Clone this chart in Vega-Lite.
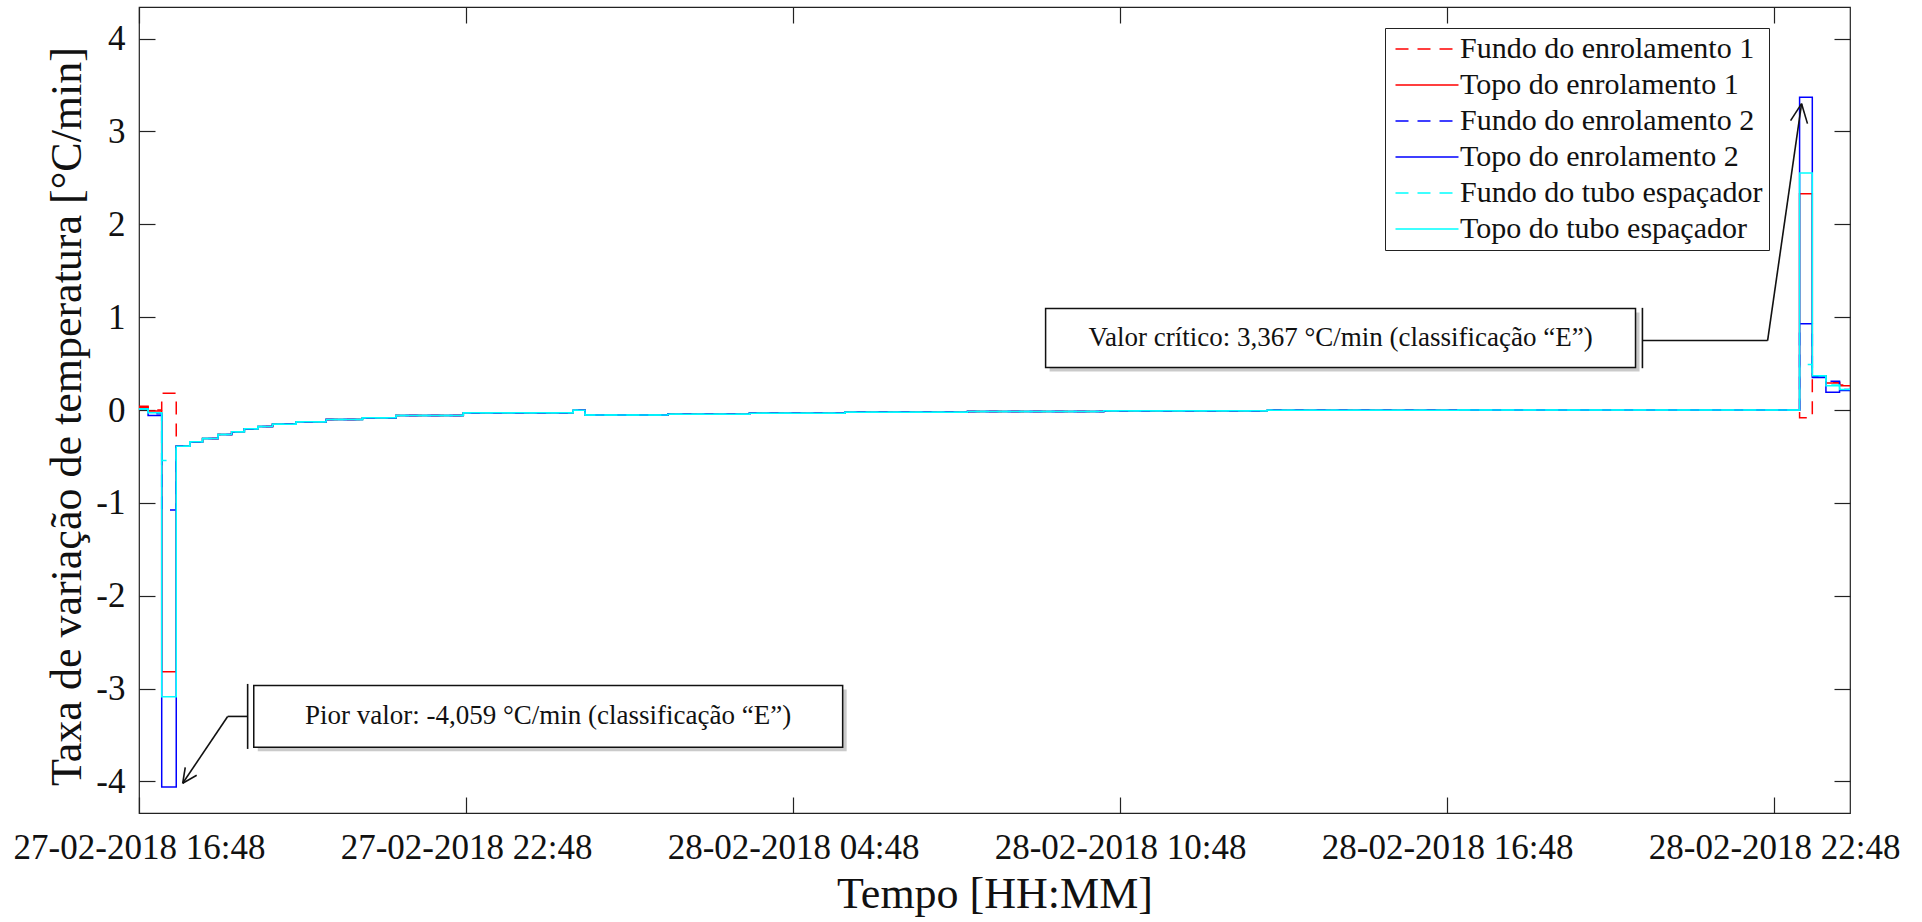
{
  "$schema": "https://vega.github.io/schema/vega-lite/v6.json",
  "width": 1711,
  "height": 806,
  "autosize": {"type": "none"},
  "padding": {"left": 139, "top": 7, "right": 72, "bottom": 109},
  "background": "white",
  "config": {
    "view": {"stroke": "#222", "strokeWidth": 1.2},
    "font": "Liberation Serif",
    "text": {"font": "Liberation Serif"},
    "legend": {"labelFont": "Liberation Serif", "titleFont": "Liberation Serif"},
    "axis": {"grid": false, "domain": false, "tickColor": "#222", "tickSize": -16, "tickWidth": 1.2, "labelFont": "Liberation Serif", "labelFontSize": 35, "labelColor": "#111", "titleFont": "Liberation Serif", "titleFontWeight": "normal", "titleColor": "#111", "labelLimit": 0}
  },
  "datasets": {
    "series": [
      {"t": "2018-02-27T16:48:00", "s": "Fundo do enrolamento 1", "v": 0.04},
      {"t": "2018-02-27T16:58:00", "s": "Fundo do enrolamento 1", "v": 0.0},
      {"t": "2018-02-27T17:13:00", "s": "Fundo do enrolamento 1", "v": 0.18},
      {"t": "2018-02-27T17:29:00", "s": "Fundo do enrolamento 1", "v": -0.39},
      {"t": "2018-02-27T17:44:00", "s": "Fundo do enrolamento 1", "v": -0.342},
      {"t": "2018-02-27T17:58:00", "s": "Fundo do enrolamento 1", "v": -0.306},
      {"t": "2018-02-27T18:15:00", "s": "Fundo do enrolamento 1", "v": -0.263},
      {"t": "2018-02-27T18:30:00", "s": "Fundo do enrolamento 1", "v": -0.234},
      {"t": "2018-02-27T18:44:00", "s": "Fundo do enrolamento 1", "v": -0.202},
      {"t": "2018-02-27T18:59:00", "s": "Fundo do enrolamento 1", "v": -0.177},
      {"t": "2018-02-27T19:15:00", "s": "Fundo do enrolamento 1", "v": -0.153},
      {"t": "2018-02-27T19:41:00", "s": "Fundo do enrolamento 1", "v": -0.127},
      {"t": "2018-02-27T20:14:00", "s": "Fundo do enrolamento 1", "v": -0.102},
      {"t": "2018-02-27T20:54:00", "s": "Fundo do enrolamento 1", "v": -0.084},
      {"t": "2018-02-27T21:31:00", "s": "Fundo do enrolamento 1", "v": -0.059},
      {"t": "2018-02-27T22:45:00", "s": "Fundo do enrolamento 1", "v": -0.03},
      {"t": "2018-02-28T00:46:00", "s": "Fundo do enrolamento 1", "v": -0.002},
      {"t": "2018-02-28T00:59:00", "s": "Fundo do enrolamento 1", "v": -0.055},
      {"t": "2018-02-28T02:30:00", "s": "Fundo do enrolamento 1", "v": -0.045},
      {"t": "2018-02-28T04:00:00", "s": "Fundo do enrolamento 1", "v": -0.035},
      {"t": "2018-02-28T05:45:00", "s": "Fundo do enrolamento 1", "v": -0.025},
      {"t": "2018-02-28T08:00:00", "s": "Fundo do enrolamento 1", "v": -0.016},
      {"t": "2018-02-28T10:30:00", "s": "Fundo do enrolamento 1", "v": -0.009},
      {"t": "2018-02-28T13:30:00", "s": "Fundo do enrolamento 1", "v": -0.004},
      {"t": "2018-02-28T17:00:00", "s": "Fundo do enrolamento 1", "v": 0.0},
      {"t": "2018-02-28T23:16:00", "s": "Fundo do enrolamento 1", "v": -0.084},
      {"t": "2018-02-28T23:30:00", "s": "Fundo do enrolamento 1", "v": 0.37},
      {"t": "2018-02-28T23:45:00", "s": "Fundo do enrolamento 1", "v": 0.30},
      {"t": "2018-03-01T00:00:00", "s": "Fundo do enrolamento 1", "v": 0.27},
      {"t": "2018-03-01T00:11:30", "s": "Fundo do enrolamento 1", "v": 0.27},

      {"t": "2018-02-27T16:48:00", "s": "Topo do enrolamento 1", "v": 0.03},
      {"t": "2018-02-27T16:58:00", "s": "Topo do enrolamento 1", "v": -0.01},
      {"t": "2018-02-27T17:13:00", "s": "Topo do enrolamento 1", "v": -2.818},
      {"t": "2018-02-27T17:29:00", "s": "Topo do enrolamento 1", "v": -0.39},
      {"t": "2018-02-27T17:44:00", "s": "Topo do enrolamento 1", "v": -0.342},
      {"t": "2018-02-27T17:58:00", "s": "Topo do enrolamento 1", "v": -0.306},
      {"t": "2018-02-27T18:15:00", "s": "Topo do enrolamento 1", "v": -0.263},
      {"t": "2018-02-27T18:30:00", "s": "Topo do enrolamento 1", "v": -0.234},
      {"t": "2018-02-27T18:44:00", "s": "Topo do enrolamento 1", "v": -0.202},
      {"t": "2018-02-27T18:59:00", "s": "Topo do enrolamento 1", "v": -0.177},
      {"t": "2018-02-27T19:15:00", "s": "Topo do enrolamento 1", "v": -0.153},
      {"t": "2018-02-27T19:41:00", "s": "Topo do enrolamento 1", "v": -0.127},
      {"t": "2018-02-27T20:14:00", "s": "Topo do enrolamento 1", "v": -0.102},
      {"t": "2018-02-27T20:54:00", "s": "Topo do enrolamento 1", "v": -0.084},
      {"t": "2018-02-27T21:31:00", "s": "Topo do enrolamento 1", "v": -0.059},
      {"t": "2018-02-27T22:45:00", "s": "Topo do enrolamento 1", "v": -0.03},
      {"t": "2018-02-28T00:46:00", "s": "Topo do enrolamento 1", "v": -0.002},
      {"t": "2018-02-28T00:59:00", "s": "Topo do enrolamento 1", "v": -0.055},
      {"t": "2018-02-28T02:30:00", "s": "Topo do enrolamento 1", "v": -0.045},
      {"t": "2018-02-28T04:00:00", "s": "Topo do enrolamento 1", "v": -0.035},
      {"t": "2018-02-28T05:45:00", "s": "Topo do enrolamento 1", "v": -0.025},
      {"t": "2018-02-28T08:00:00", "s": "Topo do enrolamento 1", "v": -0.016},
      {"t": "2018-02-28T10:30:00", "s": "Topo do enrolamento 1", "v": -0.009},
      {"t": "2018-02-28T13:30:00", "s": "Topo do enrolamento 1", "v": -0.004},
      {"t": "2018-02-28T17:00:00", "s": "Topo do enrolamento 1", "v": 0.0},
      {"t": "2018-02-28T23:16:00", "s": "Topo do enrolamento 1", "v": 2.33},
      {"t": "2018-02-28T23:30:00", "s": "Topo do enrolamento 1", "v": 0.37},
      {"t": "2018-02-28T23:45:00", "s": "Topo do enrolamento 1", "v": 0.29},
      {"t": "2018-03-01T00:00:00", "s": "Topo do enrolamento 1", "v": 0.26},
      {"t": "2018-03-01T00:11:30", "s": "Topo do enrolamento 1", "v": 0.26},

      {"t": "2018-02-27T16:48:00", "s": "Fundo do enrolamento 2", "v": 0.01},
      {"t": "2018-02-27T16:58:00", "s": "Fundo do enrolamento 2", "v": -0.04},
      {"t": "2018-02-27T17:13:00", "s": "Fundo do enrolamento 2", "v": -1.078},
      {"t": "2018-02-27T17:29:00", "s": "Fundo do enrolamento 2", "v": -0.39},
      {"t": "2018-02-27T17:44:00", "s": "Fundo do enrolamento 2", "v": -0.342},
      {"t": "2018-02-27T17:58:00", "s": "Fundo do enrolamento 2", "v": -0.306},
      {"t": "2018-02-27T18:15:00", "s": "Fundo do enrolamento 2", "v": -0.263},
      {"t": "2018-02-27T18:30:00", "s": "Fundo do enrolamento 2", "v": -0.234},
      {"t": "2018-02-27T18:44:00", "s": "Fundo do enrolamento 2", "v": -0.202},
      {"t": "2018-02-27T18:59:00", "s": "Fundo do enrolamento 2", "v": -0.177},
      {"t": "2018-02-27T19:15:00", "s": "Fundo do enrolamento 2", "v": -0.153},
      {"t": "2018-02-27T19:41:00", "s": "Fundo do enrolamento 2", "v": -0.127},
      {"t": "2018-02-27T20:14:00", "s": "Fundo do enrolamento 2", "v": -0.102},
      {"t": "2018-02-27T20:54:00", "s": "Fundo do enrolamento 2", "v": -0.084},
      {"t": "2018-02-27T21:31:00", "s": "Fundo do enrolamento 2", "v": -0.059},
      {"t": "2018-02-27T22:45:00", "s": "Fundo do enrolamento 2", "v": -0.03},
      {"t": "2018-02-28T00:46:00", "s": "Fundo do enrolamento 2", "v": -0.002},
      {"t": "2018-02-28T00:59:00", "s": "Fundo do enrolamento 2", "v": -0.055},
      {"t": "2018-02-28T02:30:00", "s": "Fundo do enrolamento 2", "v": -0.045},
      {"t": "2018-02-28T04:00:00", "s": "Fundo do enrolamento 2", "v": -0.035},
      {"t": "2018-02-28T05:45:00", "s": "Fundo do enrolamento 2", "v": -0.025},
      {"t": "2018-02-28T08:00:00", "s": "Fundo do enrolamento 2", "v": -0.016},
      {"t": "2018-02-28T10:30:00", "s": "Fundo do enrolamento 2", "v": -0.009},
      {"t": "2018-02-28T13:30:00", "s": "Fundo do enrolamento 2", "v": -0.004},
      {"t": "2018-02-28T17:00:00", "s": "Fundo do enrolamento 2", "v": 0.0},
      {"t": "2018-02-28T23:16:00", "s": "Fundo do enrolamento 2", "v": 0.928},
      {"t": "2018-02-28T23:30:00", "s": "Fundo do enrolamento 2", "v": 0.36},
      {"t": "2018-02-28T23:45:00", "s": "Fundo do enrolamento 2", "v": 0.31},
      {"t": "2018-03-01T00:00:00", "s": "Fundo do enrolamento 2", "v": 0.22},
      {"t": "2018-03-01T00:11:30", "s": "Fundo do enrolamento 2", "v": 0.22},

      {"t": "2018-02-27T16:48:00", "s": "Topo do enrolamento 2", "v": 0.01},
      {"t": "2018-02-27T16:58:00", "s": "Topo do enrolamento 2", "v": -0.06},
      {"t": "2018-02-27T17:13:00", "s": "Topo do enrolamento 2", "v": -4.059},
      {"t": "2018-02-27T17:29:00", "s": "Topo do enrolamento 2", "v": -0.39},
      {"t": "2018-02-27T17:44:00", "s": "Topo do enrolamento 2", "v": -0.342},
      {"t": "2018-02-27T17:58:00", "s": "Topo do enrolamento 2", "v": -0.306},
      {"t": "2018-02-27T18:15:00", "s": "Topo do enrolamento 2", "v": -0.263},
      {"t": "2018-02-27T18:30:00", "s": "Topo do enrolamento 2", "v": -0.234},
      {"t": "2018-02-27T18:44:00", "s": "Topo do enrolamento 2", "v": -0.202},
      {"t": "2018-02-27T18:59:00", "s": "Topo do enrolamento 2", "v": -0.177},
      {"t": "2018-02-27T19:15:00", "s": "Topo do enrolamento 2", "v": -0.153},
      {"t": "2018-02-27T19:41:00", "s": "Topo do enrolamento 2", "v": -0.127},
      {"t": "2018-02-27T20:14:00", "s": "Topo do enrolamento 2", "v": -0.102},
      {"t": "2018-02-27T20:54:00", "s": "Topo do enrolamento 2", "v": -0.084},
      {"t": "2018-02-27T21:31:00", "s": "Topo do enrolamento 2", "v": -0.059},
      {"t": "2018-02-27T22:45:00", "s": "Topo do enrolamento 2", "v": -0.03},
      {"t": "2018-02-28T00:46:00", "s": "Topo do enrolamento 2", "v": -0.002},
      {"t": "2018-02-28T00:59:00", "s": "Topo do enrolamento 2", "v": -0.055},
      {"t": "2018-02-28T02:30:00", "s": "Topo do enrolamento 2", "v": -0.045},
      {"t": "2018-02-28T04:00:00", "s": "Topo do enrolamento 2", "v": -0.035},
      {"t": "2018-02-28T05:45:00", "s": "Topo do enrolamento 2", "v": -0.025},
      {"t": "2018-02-28T08:00:00", "s": "Topo do enrolamento 2", "v": -0.016},
      {"t": "2018-02-28T10:30:00", "s": "Topo do enrolamento 2", "v": -0.009},
      {"t": "2018-02-28T13:30:00", "s": "Topo do enrolamento 2", "v": -0.004},
      {"t": "2018-02-28T17:00:00", "s": "Topo do enrolamento 2", "v": 0.0},
      {"t": "2018-02-28T23:16:00", "s": "Topo do enrolamento 2", "v": 3.367},
      {"t": "2018-02-28T23:30:00", "s": "Topo do enrolamento 2", "v": 0.35},
      {"t": "2018-02-28T23:45:00", "s": "Topo do enrolamento 2", "v": 0.19},
      {"t": "2018-03-01T00:00:00", "s": "Topo do enrolamento 2", "v": 0.21},
      {"t": "2018-03-01T00:11:30", "s": "Topo do enrolamento 2", "v": 0.21},

      {"t": "2018-02-27T16:48:00", "s": "Fundo do tubo espaçador", "v": 0.01},
      {"t": "2018-02-27T16:58:00", "s": "Fundo do tubo espaçador", "v": -0.03},
      {"t": "2018-02-27T17:13:00", "s": "Fundo do tubo espaçador", "v": -0.544},
      {"t": "2018-02-27T17:29:00", "s": "Fundo do tubo espaçador", "v": -0.39},
      {"t": "2018-02-27T17:44:00", "s": "Fundo do tubo espaçador", "v": -0.342},
      {"t": "2018-02-27T17:58:00", "s": "Fundo do tubo espaçador", "v": -0.306},
      {"t": "2018-02-27T18:15:00", "s": "Fundo do tubo espaçador", "v": -0.263},
      {"t": "2018-02-27T18:30:00", "s": "Fundo do tubo espaçador", "v": -0.234},
      {"t": "2018-02-27T18:44:00", "s": "Fundo do tubo espaçador", "v": -0.202},
      {"t": "2018-02-27T18:59:00", "s": "Fundo do tubo espaçador", "v": -0.177},
      {"t": "2018-02-27T19:15:00", "s": "Fundo do tubo espaçador", "v": -0.153},
      {"t": "2018-02-27T19:41:00", "s": "Fundo do tubo espaçador", "v": -0.127},
      {"t": "2018-02-27T20:14:00", "s": "Fundo do tubo espaçador", "v": -0.102},
      {"t": "2018-02-27T20:54:00", "s": "Fundo do tubo espaçador", "v": -0.084},
      {"t": "2018-02-27T21:31:00", "s": "Fundo do tubo espaçador", "v": -0.059},
      {"t": "2018-02-27T22:45:00", "s": "Fundo do tubo espaçador", "v": -0.03},
      {"t": "2018-02-28T00:46:00", "s": "Fundo do tubo espaçador", "v": -0.002},
      {"t": "2018-02-28T00:59:00", "s": "Fundo do tubo espaçador", "v": -0.055},
      {"t": "2018-02-28T02:30:00", "s": "Fundo do tubo espaçador", "v": -0.045},
      {"t": "2018-02-28T04:00:00", "s": "Fundo do tubo espaçador", "v": -0.035},
      {"t": "2018-02-28T05:45:00", "s": "Fundo do tubo espaçador", "v": -0.025},
      {"t": "2018-02-28T08:00:00", "s": "Fundo do tubo espaçador", "v": -0.016},
      {"t": "2018-02-28T10:30:00", "s": "Fundo do tubo espaçador", "v": -0.009},
      {"t": "2018-02-28T13:30:00", "s": "Fundo do tubo espaçador", "v": -0.004},
      {"t": "2018-02-28T17:00:00", "s": "Fundo do tubo espaçador", "v": 0.0},
      {"t": "2018-02-28T23:16:00", "s": "Fundo do tubo espaçador", "v": 0.49},
      {"t": "2018-02-28T23:30:00", "s": "Fundo do tubo espaçador", "v": 0.37},
      {"t": "2018-02-28T23:45:00", "s": "Fundo do tubo espaçador", "v": 0.27},
      {"t": "2018-03-01T00:00:00", "s": "Fundo do tubo espaçador", "v": 0.23},
      {"t": "2018-03-01T00:11:30", "s": "Fundo do tubo espaçador", "v": 0.23},

      {"t": "2018-02-27T16:48:00", "s": "Topo do tubo espaçador", "v": 0.01},
      {"t": "2018-02-27T16:58:00", "s": "Topo do tubo espaçador", "v": -0.03},
      {"t": "2018-02-27T17:13:00", "s": "Topo do tubo espaçador", "v": -3.087},
      {"t": "2018-02-27T17:29:00", "s": "Topo do tubo espaçador", "v": -0.39},
      {"t": "2018-02-27T17:44:00", "s": "Topo do tubo espaçador", "v": -0.342},
      {"t": "2018-02-27T17:58:00", "s": "Topo do tubo espaçador", "v": -0.306},
      {"t": "2018-02-27T18:15:00", "s": "Topo do tubo espaçador", "v": -0.263},
      {"t": "2018-02-27T18:30:00", "s": "Topo do tubo espaçador", "v": -0.234},
      {"t": "2018-02-27T18:44:00", "s": "Topo do tubo espaçador", "v": -0.202},
      {"t": "2018-02-27T18:59:00", "s": "Topo do tubo espaçador", "v": -0.177},
      {"t": "2018-02-27T19:15:00", "s": "Topo do tubo espaçador", "v": -0.153},
      {"t": "2018-02-27T19:41:00", "s": "Topo do tubo espaçador", "v": -0.127},
      {"t": "2018-02-27T20:14:00", "s": "Topo do tubo espaçador", "v": -0.102},
      {"t": "2018-02-27T20:54:00", "s": "Topo do tubo espaçador", "v": -0.084},
      {"t": "2018-02-27T21:31:00", "s": "Topo do tubo espaçador", "v": -0.059},
      {"t": "2018-02-27T22:45:00", "s": "Topo do tubo espaçador", "v": -0.03},
      {"t": "2018-02-28T00:46:00", "s": "Topo do tubo espaçador", "v": -0.002},
      {"t": "2018-02-28T00:59:00", "s": "Topo do tubo espaçador", "v": -0.055},
      {"t": "2018-02-28T02:30:00", "s": "Topo do tubo espaçador", "v": -0.045},
      {"t": "2018-02-28T04:00:00", "s": "Topo do tubo espaçador", "v": -0.035},
      {"t": "2018-02-28T05:45:00", "s": "Topo do tubo espaçador", "v": -0.025},
      {"t": "2018-02-28T08:00:00", "s": "Topo do tubo espaçador", "v": -0.016},
      {"t": "2018-02-28T10:30:00", "s": "Topo do tubo espaçador", "v": -0.009},
      {"t": "2018-02-28T13:30:00", "s": "Topo do tubo espaçador", "v": -0.004},
      {"t": "2018-02-28T17:00:00", "s": "Topo do tubo espaçador", "v": 0.0},
      {"t": "2018-02-28T23:16:00", "s": "Topo do tubo espaçador", "v": 2.553},
      {"t": "2018-02-28T23:30:00", "s": "Topo do tubo espaçador", "v": 0.37},
      {"t": "2018-02-28T23:45:00", "s": "Topo do tubo espaçador", "v": 0.26},
      {"t": "2018-03-01T00:00:00", "s": "Topo do tubo espaçador", "v": 0.22},
      {"t": "2018-03-01T00:11:30", "s": "Topo do tubo espaçador", "v": 0.22}
    ],
    "boxes": [
      {"t1": "2018-02-27T18:54:20", "t2": "2018-02-28T05:42:36", "v1": -2.966, "v2": -3.633},
      {"t1": "2018-02-28T09:26:00", "t2": "2018-02-28T20:15:24", "v1": 1.093, "v2": 0.458}
    ],
    "segs": [
      {"t1": "2018-02-27T18:47:36", "v1": -2.95, "t2": "2018-02-27T18:47:36", "v2": -3.65},
      {"t1": "2018-02-27T18:47:36", "v1": -3.30, "t2": "2018-02-27T18:25:36", "v2": -3.30},
      {"t1": "2018-02-27T18:25:36", "v1": -3.30, "t2": "2018-02-27T17:36:06", "v2": -4.02},
      {"t1": "2018-02-27T17:36:06", "v1": -4.02, "t2": "2018-02-27T17:51:30", "v2": -3.934},
      {"t1": "2018-02-27T17:36:06", "v1": -4.02, "t2": "2018-02-27T17:38:54", "v2": -3.848},
      {"t1": "2018-02-28T20:23:00", "v1": 1.10, "t2": "2018-02-28T20:23:00", "v2": 0.45},
      {"t1": "2018-02-28T20:23:00", "v1": 0.748, "t2": "2018-02-28T22:40:48", "v2": 0.748},
      {"t1": "2018-02-28T22:40:48", "v1": 0.748, "t2": "2018-02-28T23:18:12", "v2": 3.299},
      {"t1": "2018-02-28T23:18:12", "v1": 3.299, "t2": "2018-02-28T23:06:06", "v2": 3.116},
      {"t1": "2018-02-28T23:18:12", "v1": 3.299, "t2": "2018-02-28T23:24:42", "v2": 3.084}
    ],
    "notes": [
      {"t": "2018-02-28T00:18:24", "v": -3.30, "label": "Pior valor: -4,059 °C/min (classificação “E”)"},
      {"t": "2018-02-28T14:50:48", "v": 0.775, "label": "Valor crítico: 3,367 °C/min (classificação “E”)"}
    ]
  },
  "layer": [
    {
      "data": {"name": "series"},
      "mark": {"type": "line", "interpolate": "step-after", "strokeWidth": 1.5, "clip": true},
      "encoding": {
        "x": {
          "field": "t", "type": "temporal",
          "scale": {"domain": [{"year": 2018, "month": 2, "date": 27, "hours": 16, "minutes": 48}, {"year": 2018, "month": 3, "date": 1, "hours": 0, "minutes": 11, "seconds": 30}], "nice": false},
          "axis": {
            "orient": "bottom", "title": "Tempo [HH:MM]", "titleFont": "Liberation Serif", "titleFontSize": 44, "titlePadding": 7,
            "labelFont": "Liberation Serif", "labelFontSize": 35, "labelLimit": 0,
            "values": [
              {"year": 2018, "month": 2, "date": 27, "hours": 16, "minutes": 48},
              {"year": 2018, "month": 2, "date": 27, "hours": 22, "minutes": 48},
              {"year": 2018, "month": 2, "date": 28, "hours": 4, "minutes": 48},
              {"year": 2018, "month": 2, "date": 28, "hours": 10, "minutes": 48},
              {"year": 2018, "month": 2, "date": 28, "hours": 16, "minutes": 48},
              {"year": 2018, "month": 2, "date": 28, "hours": 22, "minutes": 48}
            ],
            "format": "%d-%m-%Y %H:%M", "labelPadding": 33, "labelFlush": false, "labelOverlap": false
          }
        },
        "y": {
          "field": "v", "type": "quantitative",
          "scale": {"domain": [-4.34, 4.34], "nice": false, "zero": false},
          "axis": {
            "orient": "left", "title": "Taxa de variação de temperatura [°C/min]", "titleFont": "Liberation Serif", "titleFontSize": 44, "titlePadding": 6, "titleY": 409,
            "labelFont": "Liberation Serif", "labelFontSize": 35,
            "values": [-4, -3, -2, -1, 0, 1, 2, 3, 4], "labelExpr": "toString(datum.value)", "labelPadding": 30
          }
        },
        "color": {
          "field": "s", "type": "nominal",
          "scale": {
            "domain": ["Fundo do enrolamento 1", "Topo do enrolamento 1", "Fundo do enrolamento 2", "Topo do enrolamento 2", "Fundo do tubo espaçador", "Topo do tubo espaçador"],
            "range": ["#ff0000", "#ff0000", "#0000ff", "#0000ff", "#00ffff", "#00ffff"]
          },
          "legend": {
            "title": null, "orient": "none", "legendX": 1246, "legendY": 21,
            "strokeColor": "#222", "fillColor": "white", "padding": 6,
            "labelFont": "Liberation Serif", "labelFontSize": 30, "labelColor": "#111", "labelLimit": 0,
            "symbolType": "M-3,0H3", "symbolSize": 441, "symbolStrokeWidth": 1.5, "symbolOffset": 21, "labelOffset": 18, "rowPadding": 6
          }
        },
        "strokeDash": {
          "field": "s", "type": "nominal",
          "scale": {
            "domain": ["Fundo do enrolamento 1", "Topo do enrolamento 1", "Fundo do enrolamento 2", "Topo do enrolamento 2", "Fundo do tubo espaçador", "Topo do tubo espaçador"],
            "range": [[13, 9], [1, 0], [13, 9], [1, 0], [13, 9], [1, 0]]
          },
          "legend": {
            "title": null, "orient": "none", "legendX": 1246, "legendY": 21,
            "strokeColor": "#222", "fillColor": "white", "padding": 6,
            "labelFont": "Liberation Serif", "labelFontSize": 30, "labelColor": "#111", "labelLimit": 0,
            "symbolType": "M-3,0H3", "symbolSize": 441, "symbolStrokeWidth": 1.5, "symbolOffset": 21, "labelOffset": 18, "rowPadding": 6
          }
        }
      }
    },
    {
      "data": {"name": "boxes"},
      "mark": {"type": "rect", "fill": "#8a8a8a", "opacity": 0.45, "xOffset": 4, "x2Offset": 4, "yOffset": 4, "y2Offset": 4},
      "encoding": {
        "x": {"field": "t1", "type": "temporal", "axis": null},
        "x2": {"field": "t2"},
        "y": {"field": "v1", "type": "quantitative", "axis": null},
        "y2": {"field": "v2"}
      }
    },
    {
      "data": {"name": "boxes"},
      "mark": {"type": "rect", "fill": "white", "stroke": "#111", "strokeWidth": 1.5},
      "encoding": {
        "x": {"field": "t1", "type": "temporal", "axis": null},
        "x2": {"field": "t2"},
        "y": {"field": "v1", "type": "quantitative", "axis": null},
        "y2": {"field": "v2"}
      }
    },
    {
      "data": {"name": "segs"},
      "mark": {"type": "rule", "color": "#111", "strokeWidth": 1.6},
      "encoding": {
        "x": {
          "field": "t1", "type": "temporal",
          "axis": {
            "orient": "top", "labels": false, "title": null,
            "values": [
              {"year": 2018, "month": 2, "date": 27, "hours": 16, "minutes": 48},
              {"year": 2018, "month": 2, "date": 27, "hours": 22, "minutes": 48},
              {"year": 2018, "month": 2, "date": 28, "hours": 4, "minutes": 48},
              {"year": 2018, "month": 2, "date": 28, "hours": 10, "minutes": 48},
              {"year": 2018, "month": 2, "date": 28, "hours": 16, "minutes": 48},
              {"year": 2018, "month": 2, "date": 28, "hours": 22, "minutes": 48}
            ]
          }
        },
        "x2": {"field": "t2"},
        "y": {
          "field": "v1", "type": "quantitative",
          "axis": {"orient": "right", "labels": false, "title": null, "values": [-4, -3, -2, -1, 0, 1, 2, 3, 4]}
        },
        "y2": {"field": "v2"}
      }
    },
    {
      "data": {"name": "notes"},
      "mark": {"type": "text", "font": "Liberation Serif", "fontSize": 27, "color": "#111", "align": "center", "baseline": "middle"},
      "encoding": {
        "x": {"field": "t", "type": "temporal", "axis": null},
        "y": {"field": "v", "type": "quantitative", "axis": null},
        "text": {"field": "label"}
      }
    }
  ],
  "resolve": {"axis": {"x": "independent", "y": "independent"}}
}
